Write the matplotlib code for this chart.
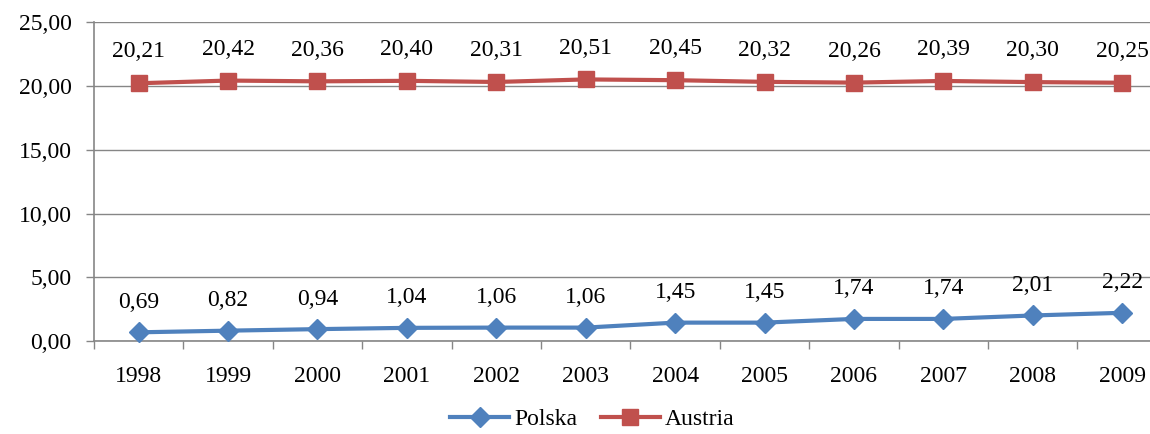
import matplotlib
matplotlib.use("Agg")
import matplotlib.pyplot as plt
from matplotlib.ticker import FixedLocator

years = ["1998", "1999", "2000", "2001", "2002", "2003",
         "2004", "2005", "2006", "2007", "2008", "2009"]
polska = [0.69, 0.82, 0.94, 1.04, 1.06, 1.06, 1.45, 1.45, 1.74, 1.74, 2.01, 2.22]
austria = [20.21, 20.42, 20.36, 20.40, 20.31, 20.51, 20.45, 20.32, 20.26, 20.39, 20.30, 20.25]
y_ticks = [0, 5, 10, 15, 20, 25]

plt.rcParams['font.family'] = ['Liberation Serif', 'DejaVu Serif']
FS = 17

def fmt(v):
    return f"{v:.2f}".replace(".", ",")

fig = plt.figure(figsize=(11.5, 4.34), dpi=100)
ax = fig.add_axes([0.0817, 0.214, 0.933, 0.735])

x = list(range(len(years)))
grid_c = "#868686"

ax.set_ylim(0, 25)
ax.set_xlim(-0.5, len(years) - 0.5)
ax.yaxis.set_major_locator(FixedLocator(y_ticks))
ax.set_yticklabels([fmt(v) for v in y_ticks], fontsize=FS)
ax.grid(axis="y", color=grid_c, linewidth=1)
ax.set_axisbelow(True)

ax.set_xticks(x)
ax.set_xticklabels(years, fontsize=FS)
ax.set_xticks([i + 0.5 for i in range(-1, len(years))], minor=True)
ax.tick_params(axis="x", which="major", length=0, pad=18)
ax.tick_params(axis="x", which="minor", length=6, color=grid_c, width=1)
ax.tick_params(axis="y", length=6, color=grid_c, width=1, pad=10)

for s in ["top", "right"]:
    ax.spines[s].set_visible(False)
for s in ["left", "bottom"]:
    ax.spines[s].set_color(grid_c)
    ax.spines[s].set_linewidth(1.2)

blue = "#4F81BD"
red = "#C0504D"
ax.plot(x, polska, color=blue, linewidth=3, marker="D", markersize=10,
        label="Polska", clip_on=False, zorder=3)
ax.plot(x, austria, color=red, linewidth=3, marker="s", markersize=11,
        label="Austria", clip_on=False, zorder=3)

for xi, v in zip(x, polska):
    ax.annotate(fmt(v), (xi, v), xytext=(0, 14), textcoords="offset points",
                ha="center", va="bottom", fontsize=FS)
for xi, v in zip(x, austria):
    ax.annotate(fmt(v), (xi, v), xytext=(0, 15), textcoords="offset points",
                ha="center", va="bottom", fontsize=FS)

fig.legend(loc="lower center", bbox_to_anchor=(0.515, -0.04), ncol=2,
           frameon=False, fontsize=FS, handlelength=2.5, columnspacing=1.0,
           handletextpad=0.2)

fig.savefig("out.png", dpi=100)
